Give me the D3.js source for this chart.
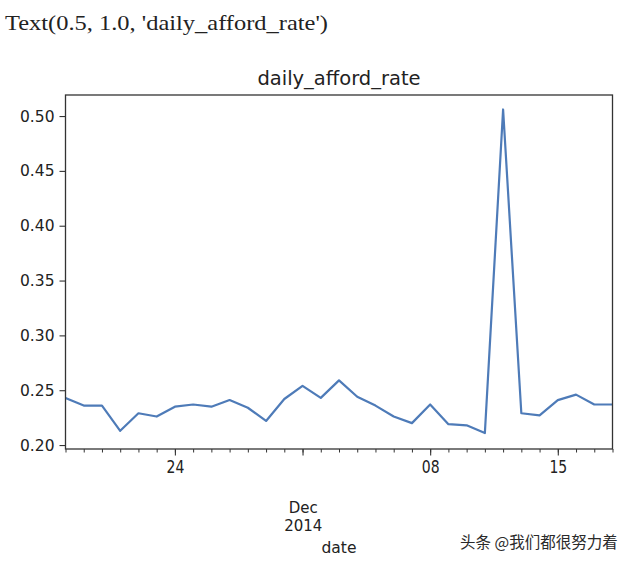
<!DOCTYPE html>
<html>
<head>
<meta charset="utf-8">
<script src="https://cdn.jsdelivr.net/npm/d3@7"></script>
<style>
  html, body { margin: 0; padding: 0; background: #fff; }
  svg { display: block; }
</style>
</head>
<body>
<script>
// ---- data ----
const dates = d3.timeDay.range(new Date(2014, 10, 18), new Date(2014, 11, 19));
const afford = [0.243, 0.236, 0.236, 0.213, 0.229, 0.226, 0.235, 0.237, 0.235, 0.241,
                0.234, 0.222, 0.242, 0.254, 0.243, 0.259, 0.244, 0.236, 0.226, 0.220,
                0.237, 0.219, 0.218, 0.211, 0.506, 0.229, 0.227, 0.241, 0.246, 0.237, 0.237];
const yTicks = [0.20, 0.25, 0.30, 0.35, 0.40, 0.45, 0.50];
const xMajorTicks = [new Date(2014, 10, 24), new Date(2014, 11, 1), new Date(2014, 11, 8), new Date(2014, 11, 15)];
const monthLabel = ["Dec", "2014"];
const titleText = "daily_afford_rate";
const reprText = "Text(0.5, 1.0, 'daily_afford_rate')";
const xLabel = "date";
const watermark = "头条 @我们都很努力着";

// ---- layout ----
const W = 640, H = 565;
const L = 65.5, R = 612.5, T = 95, B = 449;

const svg = d3.select("body").append("svg").attr("width", W).attr("height", H);

const x = d3.scaleTime().domain([dates[0], dates[dates.length - 1]]).range([L, R]);
const y = d3.scaleLinear().domain([0.1964, 0.5192]).range([B, T]);

// repr text at top
svg.append("text")
  .attr("x", 5).attr("y", 30)
  .attr("font-family", "Liberation Serif, serif")
  .attr("font-size", 21)
  .attr("fill", "#222")
  .attr("textLength", 323)
  .attr("lengthAdjust", "spacingAndGlyphs")
  .text(reprText);

// title
svg.append("text")
  .attr("x", (L + R) / 2).attr("y", 85)
  .attr("text-anchor", "middle")
  .attr("font-family", "DejaVu Sans, sans-serif")
  .attr("font-size", 19.5)
  .attr("fill", "#222")
  .text(titleText);

// line
const line = d3.line().x((d, i) => x(dates[i])).y(d => y(d));
svg.append("path")
  .datum(afford)
  .attr("d", line)
  .attr("fill", "none")
  .attr("stroke", "#4E7BB8")
  .attr("stroke-width", 2.2)
  .attr("stroke-linejoin", "round");

// y axis
const yAxis = svg.append("g")
  .attr("transform", `translate(${L},0)`)
  .call(d3.axisLeft(y).tickValues(yTicks).tickFormat(d3.format(".2f")).tickSize(6).tickPadding(5));
yAxis.select(".domain").remove();
yAxis.selectAll("line").attr("stroke", "#333").attr("stroke-width", 1.1);
yAxis.selectAll("text")
  .attr("font-family", "DejaVu Sans, sans-serif")
  .attr("font-size", 15.5)
  .attr("fill", "#222");

// x minor ticks
const xMinor = svg.append("g")
  .attr("transform", `translate(0,${B})`)
  .call(d3.axisBottom(x).ticks(d3.timeDay.every(1)).tickFormat("").tickSize(3.5));
xMinor.select(".domain").remove();
xMinor.selectAll("line").attr("stroke", "#333").attr("stroke-width", 1);

// x major ticks
const fmtDay = d3.timeFormat("%d");
const xMajor = svg.append("g")
  .attr("transform", `translate(0,${B})`)
  .call(d3.axisBottom(x).tickValues(xMajorTicks)
    .tickFormat(d => d.getDate() === 1 ? "" : fmtDay(d))
    .tickSize(6.5).tickPadding(5));
xMajor.select(".domain").remove();
xMajor.selectAll("line").attr("stroke", "#333").attr("stroke-width", 1.1);
xMajor.selectAll("text")
  .attr("font-family", "DejaVu Sans, sans-serif")
  .attr("font-size", 17.5)
  .attr("fill", "#222")
  .attr("transform", "scale(0.8,1)");

// month label
const decX = x(xMajorTicks[1]);
const mLab = svg.append("g")
  .attr("font-family", "DejaVu Sans, sans-serif")
  .attr("font-size", 15)
  .attr("fill", "#222")
  .attr("text-anchor", "middle");
mLab.append("text").attr("x", decX + 0.8).attr("y", 513).text(monthLabel[0]);
mLab.append("text").attr("x", decX + 0.8).attr("y", 531).text(monthLabel[1]);

// x label
svg.append("text")
  .attr("x", (L + R) / 2).attr("y", 552.5)
  .attr("text-anchor", "middle")
  .attr("font-family", "DejaVu Sans, sans-serif")
  .attr("font-size", 15.5)
  .attr("fill", "#222")
  .text(xLabel);

// frame
svg.append("rect")
  .attr("x", L).attr("y", T)
  .attr("width", R - L).attr("height", B - T)
  .attr("fill", "none")
  .attr("stroke", "#333")
  .attr("stroke-width", 1.3);

// watermark
svg.append("text")
  .attr("x", 460).attr("y", 548)
  .attr("font-family", "Noto Sans CJK SC, sans-serif")
  .attr("font-size", 15.5)
  .attr("fill", "#2a2a2a")
  .attr("stroke", "#fff").attr("stroke-width", 2).attr("paint-order", "stroke")
  .text(watermark);
</script>
</body>
</html>
